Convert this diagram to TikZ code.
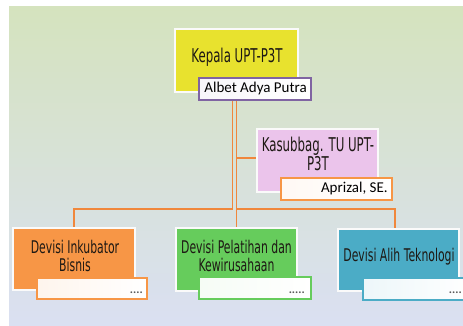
\documentclass[tikz,border=0pt]{standalone}
\usepackage{fontspec}
\setmainfont{Carlito}
\newfontfamily\agency[FakeStretch=0.62]{DejaVu Sans}
\definecolor{bgtop}{RGB}{213,227,190}
\definecolor{bgmid}{RGB}{200,214,232}
\definecolor{bgbot}{RGB}{218,224,242}
\definecolor{cyellow}{RGB}{232,226,46}
\definecolor{cpink}{RGB}{235,196,235}
\definecolor{corange}{RGB}{247,150,70}
\definecolor{cgreen}{RGB}{102,204,92}
\definecolor{cteal}{RGB}{75,172,198}
\definecolor{cpurple}{RGB}{128,100,162}
\definecolor{cline}{RGB}{240,135,60}
\definecolor{ink}{RGB}{30,25,20}
\begin{document}
\begin{tikzpicture}[x=1pt,y=-1pt,
  mainbox/.style={draw=white!96!gray, line width=1.8pt, inner sep=0pt},
  namebox/.style={line width=1.8pt, inner sep=0pt},
  bigtext/.style={font=\agency\fontsize{19}{18}\selectfont, text=ink, align=center, inner sep=0pt},
  divtext/.style={font=\agency\fontsize{17.5}{18.5}\selectfont, text=ink, align=center, inner sep=0pt},
  nametext/.style={font=\fontsize{15}{15}\selectfont, text=black, inner sep=0pt, anchor=east},
  dotstext/.style={font=\bfseries\fontsize{12}{12}\selectfont, text=black!65, inner sep=0pt, anchor=base east},
  conn/.style={draw=cline, line width=1.6pt}]
\useasboundingbox (0,0) rectangle (463,326);
\fill[white] (0,0) rectangle (463,326);
\shade[top color=bgtop, middle color=bgmid, bottom color=bgbot] (9,7) rectangle (463,326);

% boxes
\node[mainbox, fill=cyellow, minimum width=123pt, minimum height=63pt] (kepala) at (236.5,60.5) {};
\node[namebox, draw=cpurple, left color=cpurple!6, right color=white, minimum width=112pt, minimum height=22pt] (albet) at (255,89) {};
\node[mainbox, fill=cpink, minimum width=121pt, minimum height=63pt] (kasub) at (317.5,160.5) {};
\node[namebox, draw=corange, left color=corange!6, right color=white, minimum width=111pt, minimum height=22pt] (aprizal) at (336.5,189) {};
\node[mainbox, fill=corange, minimum width=122pt, minimum height=62pt] (inkub) at (74,259) {};
\node[namebox, draw=corange, left color=corange!10, right color=white, minimum width=110pt, minimum height=21pt] (inkubname) at (92,288.5) {};
\node[mainbox, fill=cgreen, minimum width=121pt, minimum height=63pt] (pelat) at (236.5,259.5) {};
\node[namebox, draw=cgreen, left color=cgreen!6, right color=white, minimum width=112pt, minimum height=22pt] (pelatname) at (255,288) {};
\node[mainbox, fill=cteal, minimum width=121pt, minimum height=62pt] (alih) at (398.5,260) {};
\node[namebox, draw=cteal, left color=cteal!10, right color=white, minimum width=110pt, minimum height=22pt] (alihname) at (418,289) {};

% texts
\node[bigtext] (kepalat) at (237,57.5) {Kepala UPT-P3T};
\node[nametext] (albett) at ([xshift=-5pt]albet.east) {Albet Adya Putra};
\node[bigtext] (kasubt) at (318,154) {Kasubbag. TU UPT-\\P3T};
\node[nametext] (aprizalt) at ([xshift=-5pt]aprizal.east) {Aprizal, SE.};
\node[divtext] (inkubt) at (75,256) {Devisi Inkubator\\Bisnis};
\node[divtext] (pelatt) at (236.5,256) {Devisi Pelatihan dan\\Kewirusahaan};
\node[divtext] (aliht) at (399,257) {Devisi Alih Teknologi};
\node[dotstext] (inkubd) at (143,293) {....};
\node[dotstext] (pelatd) at (305,293) {.....};
\node[dotstext] (alihd) at (462,293) {....};

% connectors
\coordinate (busy) at (0,209);
\draw[conn] ([xshift=-4pt]kepala.center |- albet.south) |- (inkub.north |- busy) -- (inkub.north);
\draw[conn] (kepala.center |- albet.south) -- (pelat.north);
\draw[conn] (kepala.center |- busy) -| ([xshift=-3.5pt]alih.north);
\draw[conn] (kepala.center |- kasub.west) ++(0,-2.5) -- ([yshift=2.5pt]kasub.west);
\end{tikzpicture}
\end{document}
